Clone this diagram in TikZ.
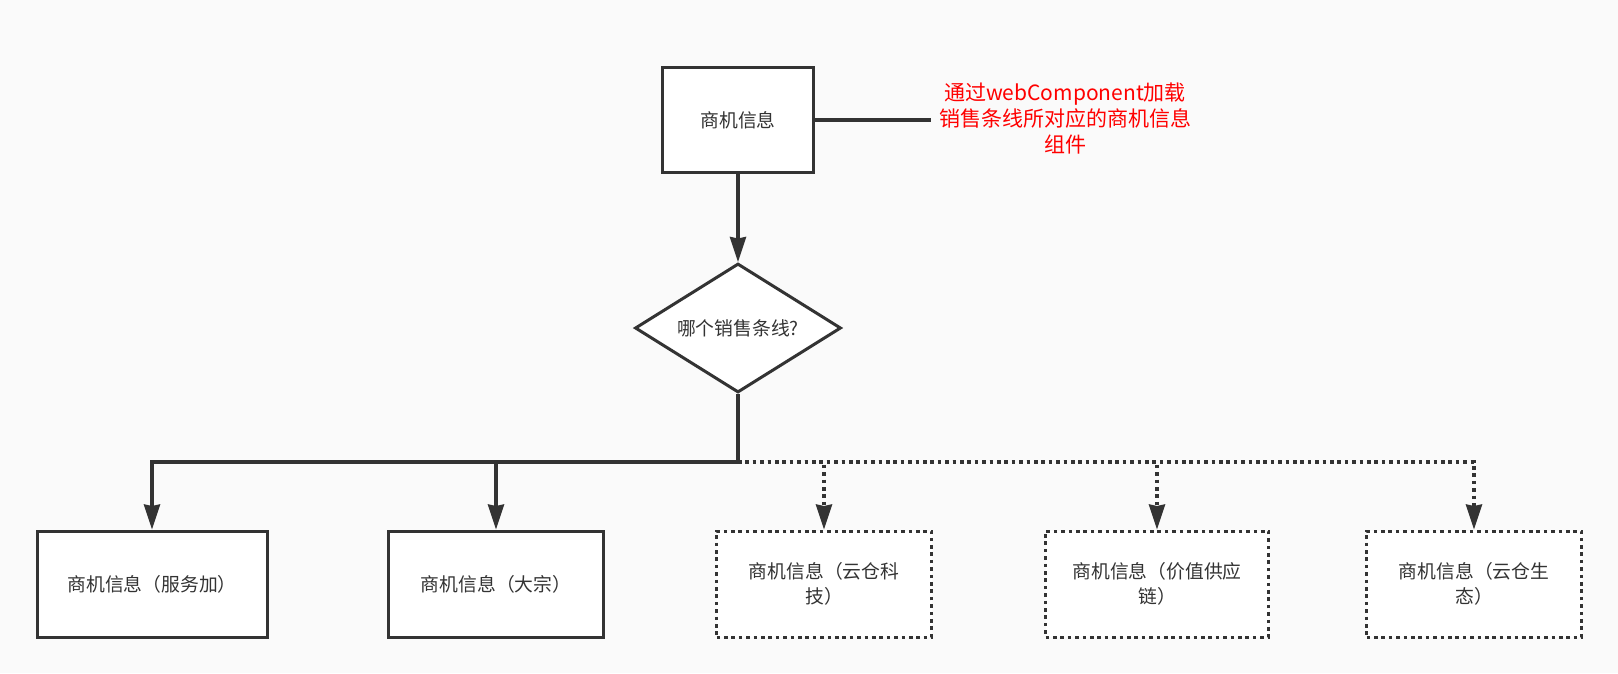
\documentclass[tikz,border=0pt]{standalone}
\usepackage{fontspec}
\usepackage{xcolor}
\usepackage{tikz}
\usetikzlibrary{arrows.meta,shapes.geometric,calc}
\newfontfamily\cjk{Noto Sans CJK SC}
\definecolor{mInk}{HTML}{333333}
\definecolor{mRed}{HTML}{FF0000}
\definecolor{mBack}{HTML}{FAFAFA}

\begin{document}
\begin{tikzpicture}[
    x=1pt, y=-1pt,
    info/.style ={rectangle, draw=mInk, line width=3pt, fill=white,
                  minimum height=106pt, align=center, text=mInk,
                  font=\cjk\fontsize{18.8}{25}\selectfont},
    maybe/.style={info, dash pattern=on 3.6pt off 3.8pt},
    decide/.style={diamond, aspect=1.6, inner sep=0pt, draw=mInk,
                  line width=3pt, fill=white,
                  minimum width=206pt, minimum height=129pt, text=mInk,
                  font=\cjk\fontsize{18.8}{25}\selectfont},
    note/.style ={align=center, text=mRed, inner sep=0pt,
                  font=\cjk\fontsize{21}{26}\selectfont},
    arr/.style  ={-{Stealth[length=25pt, width=16pt, inset=1.5pt]},
                  line width=3.2pt, draw=mInk},
    arrdot/.style={arr, dash pattern=on 3.6pt off 3.8pt}
]
\fill[mBack] (0,0) rectangle (1618,673);
\useasboundingbox (0,0) rectangle (1618,673);

\node[info, minimum width=151pt, minimum height=105pt] (top) at (738,120) {商机信息};
\node[note] (hint) at (1065,119) {通过webComponent加载\\销售条线所对应的商机信息\\组件};
\node[decide] (q) at (738,328) {哪个销售条线?};
\coordinate (junc) at (738,462);

\node[info,  minimum width=230pt] (b1) at (152,584)  {商机信息（服务加）};
\node[info,  minimum width=215pt] (b2) at (496,584)  {商机信息（大宗）};
\node[maybe, minimum width=215pt] (b3) at (824,584)  {商机信息（云仓科\\技）};
\node[maybe, minimum width=223pt] (b4) at (1157,584) {商机信息（价值供应\\链）};
\node[maybe, minimum width=215pt] (b5) at (1474,584) {商机信息（云仓生\\态）};

\draw[line width=3.2pt, draw=mInk] (top.east) -- ($(top.east -| hint.west)+(-8,0)$);
\draw[arr] (top) -- (q);
\draw[arr] (q.south) -- (junc) -| (b1.north);
\draw[arr] (q.south) -- (junc) -| (b2.north);
\draw[arrdot] (junc) -| (b3.north);
\draw[arrdot] (junc) -| (b4.north);
\draw[arrdot] (junc) -| (b5.north);
\end{tikzpicture}
\end{document}
